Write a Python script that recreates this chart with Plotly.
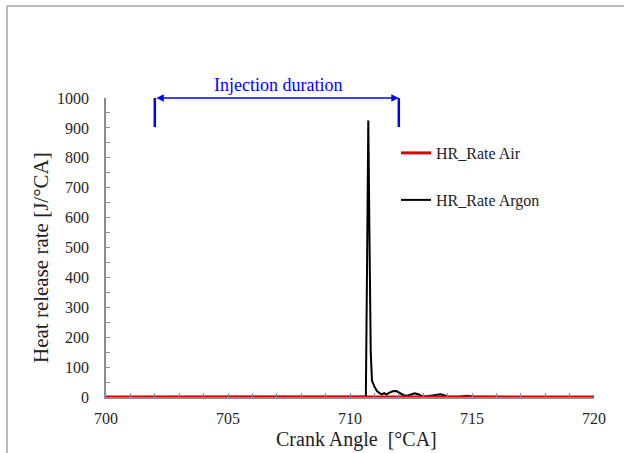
import plotly.graph_objects as go

# ---- data ----
air_ca = [700, 702, 704, 706, 708, 710, 711, 712, 714, 716, 718, 720]
air_hrr = [0, 0, 0, 0, 0, 0, 0, 0, 0, 0, 0, 0]

argon_ca = [700, 705, 710.6, 710.65, 710.7, 710.75, 710.8, 710.85, 710.9, 710.95,
            711.0, 711.05, 711.1, 711.2, 711.3, 711.4, 711.5, 711.6, 711.75, 711.9,
            712.0, 712.1, 712.2, 712.35, 712.5, 712.65, 712.8, 712.95, 713.1, 713.3,
            713.5, 713.7, 713.85, 714.0, 714.2, 714.5, 714.8, 715.0, 715.5, 716.0,
            717.0, 720.0]
argon_hrr = [0, 0, 0, 2, 450, 925, 520, 150, 55, 42,
             35, 28, 20, 14, 9, 13, 8, 14, 19, 20,
             16, 12, 6, 4, 8, 12, 9, 3, 2, 4,
             8, 9, 6, 2, 1, 1, 4, 2, 1, 0.5,
             0, 0]

injection_window = [702, 712]
injection_label = "Injection duration"

x_title = "Crank Angle  [°CA]"
y_title = "Heat release rate [J/°CA]"

SERIF = "Liberation Serif"

fig = go.Figure()
fig.add_trace(go.Scatter(x=argon_ca, y=argon_hrr, mode="lines", name="HR_Rate Argon",
                         line=dict(color="#000000", width=2), legend="legend2"))
fig.add_trace(go.Scatter(x=air_ca, y=air_hrr, mode="lines", name="HR_Rate Air",
                         line=dict(color="#e00000", width=3), legend="legend"))

axis_common = dict(showline=True, linecolor="#8c8c8c", linewidth=1.5,
                   ticks="inside", ticklen=4, tickcolor="#8c8c8c", tickwidth=1,
                   showgrid=False, zeroline=False,
                   tickfont=dict(family=SERIF, size=16, color="#262626"))

fig.update_xaxes(range=[700, 720], dtick=5, tick0=700,
                 minor=dict(dtick=1, ticks="inside", ticklen=4, tickcolor="#8c8c8c"),
                 ticklabelstandoff=6, **axis_common)
fig.update_yaxes(range=[0, 1000], dtick=100, tick0=0,
                 minor=dict(dtick=50, ticks="inside", ticklen=4, tickcolor="#8c8c8c"),
                 ticklabelstandoff=12, **axis_common)

legend_common = dict(font=dict(family=SERIF, size=16, color="#222222"),
                     bgcolor="rgba(0,0,0,0)", xanchor="left", yanchor="middle",
                     itemwidth=30)
fig.update_layout(
    legend=dict(x=(396 - 106) / 488, y=(397 - 153) / 299, **legend_common),
    legend2=dict(x=(396 - 106) / 488, y=(397 - 200) / 299, **legend_common),
)

# injection duration marker
x0, x1 = injection_window
for xv in injection_window:
    fig.add_shape(type="line", xref="x", yref="y", x0=xv, x1=xv, y0=903, y1=1077,
                  line=dict(color="#0000ff", width=2.5))
fig.add_annotation(x=x1, y=1000, ax=x0, ay=1000, xref="x", yref="y", axref="x", ayref="y",
                   text="", showarrow=True, arrowhead=2, arrowside="end+start",
                   arrowsize=1, arrowwidth=1.5, arrowcolor="#0000ff")
fig.add_annotation(x=(x0 + x1) / 2 + 0.05, y=(397 - 85) / 299, xref="x", yref="paper",
                   text=injection_label, showarrow=False, xanchor="center", yanchor="middle",
                   font=dict(family=SERIF, size=18, color="#0000ff"))

# axis titles
fig.add_annotation(xref="paper", yref="paper", x=(356 - 106) / 488, y=(397 - 440) / 299,
                   text=x_title, showarrow=False, xanchor="center", yanchor="middle",
                   font=dict(family=SERIF, size=20, color="#222222"))
fig.add_annotation(xref="paper", yref="paper", x=(41 - 106) / 488, y=(397 - 258) / 299,
                   text=y_title, showarrow=False, textangle=-90,
                   xanchor="center", yanchor="middle",
                   font=dict(family=SERIF, size=21, color="#222222"))

# outer frame
fx = (7 - 106) / 488
fy = (397 - 6) / 299
fig.add_shape(type="line", xref="paper", yref="paper", x0=fx, x1=(624 - 106) / 488,
              y0=fy, y1=fy, line=dict(color="#a6a6a6", width=1.5))
fig.add_shape(type="line", xref="paper", yref="paper", x0=fx, x1=fx,
              y0=fy, y1=(397 - 453) / 299, line=dict(color="#a6a6a6", width=1.5))

fig.update_layout(width=624, height=453, margin=dict(l=106, r=30, t=98, b=56),
                  plot_bgcolor="white", paper_bgcolor="white", showlegend=True)

fig.write_html("out.html")
